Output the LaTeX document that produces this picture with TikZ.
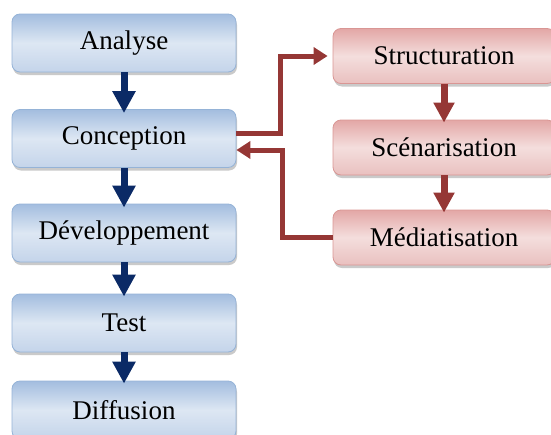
\documentclass[tikz,border=0pt]{standalone}
\usepackage{fontspec}
\setmainfont{Liberation Serif}
\usetikzlibrary{arrows.meta,shadows,calc}
\definecolor{bluefillA}{HTML}{A3BDDF}
\definecolor{bluefillB}{HTML}{DDE7F3}
\definecolor{bluefillC}{HTML}{C4D4EA}
\definecolor{blueedge}{HTML}{95B3D7}
\definecolor{redfillA}{HTML}{E3A7A6}
\definecolor{redfillB}{HTML}{F4DEDD}
\definecolor{redfillC}{HTML}{E9C0BF}
\definecolor{rededge}{HTML}{D99694}
\definecolor{navyarrow}{HTML}{0B2A66}
\definecolor{redarrow}{HTML}{953735}
\tikzset{
  phase/.style={rectangle, rounded corners=8pt, minimum width=224pt, minimum height=58pt,
    draw=blueedge, line width=0.8pt, top color=bluefillA, bottom color=bluefillC, middle color=bluefillB,
    drop shadow={shadow xshift=1pt, shadow yshift=-3pt, fill=black!35, opacity=0.6},
    font=\fontsize{27}{32}\selectfont, text=black},
  substep/.style={phase, minimum width=222pt, minimum height=55pt,
    draw=rededge, top color=redfillA, bottom color=redfillC, middle color=redfillB},
  flow/.style={draw=navyarrow, line width=7pt, -{Triangle[width=22pt,length=22pt]}},
  loop/.style={draw=redarrow, line width=5pt, -{Triangle[width=17pt,length=14pt]}},
  subflow/.style={draw=redarrow, line width=7pt, -{Triangle[width=20pt,length=20pt]}},
}
\begin{document}
\begin{tikzpicture}[x=1pt,y=-1pt]
\useasboundingbox (0,0) rectangle (551,434);
% main life cycle
\node[phase] (ana)  at (124,43)    {Analyse};
\node[phase] (conc) at (124,138.5) {Conception};
\node[phase] (dev)  at (124,233)   {Développement};
\node[phase] (test) at (124,323)   {Test};
\node[phase] (diff) at (124,410)   {Diffusion};
% design sub-steps
\node[substep] (stru) at (444,56)    {Structuration};
\node[substep] (scen) at (444,147.5) {Scénarisation};
\node[substep] (medi) at (444,237.5) {Médiatisation};
% vertical flow arrows
\draw[flow, shorten >=-4pt] (ana.south)  -- (conc.north);
\draw[flow, shorten >=-4pt] (conc.south) -- (dev.north);
\draw[flow, shorten >=-3pt] (dev.south)  -- (test.north);
\draw[flow, shorten >=-3pt] (test.south) -- (diff.north);
\draw[subflow, shorten >=-3pt] (stru.south) -- (scen.north);
\draw[subflow, shorten >=-3pt] (scen.south) -- (medi.north);
% loop between conception and its sub-steps
\draw[loop, shorten >=5pt] ($(conc.east)+(0,-5.5)$) -- ++(44,0) |- (stru.west);
\draw[loop] (medi.west) -- ++(-50,0) |- ($(conc.east)+(0,11.5)$);
\end{tikzpicture}
\end{document}
